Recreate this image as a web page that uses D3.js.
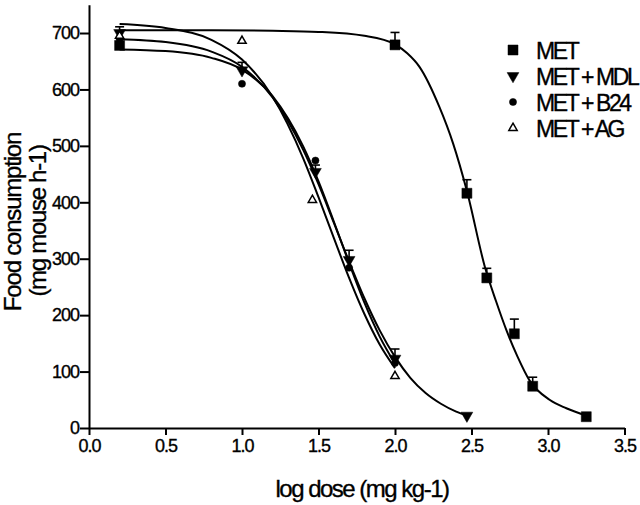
<!DOCTYPE html>
<html><head><meta charset="utf-8">
<script src="https://cdn.jsdelivr.net/npm/d3@7"></script>
<style>
body{margin:0;background:#fff}
text{font-family:"Liberation Sans",Arial,Helvetica,sans-serif;fill:#000;stroke:#000;stroke-width:0.35px}
</style></head>
<body><svg id="c" width="640" height="505"></svg>
<script>
// ---- data ----
const xTicks = [0.0,0.5,1.0,1.5,2.0,2.5,3.0,3.5];
const yTicks = [0,100,200,300,400,500,600,700];
const seriesNames = ["MET","MET + MDL","MET + B24","MET + AG"];

// observed points
const metX = [0.2, 2.0, 2.47, 2.6, 2.78, 2.9, 3.25];
const metY = [678, 679, 416, 266, 167, 74, 20];
const metErr = [6, 22, 24, 17, 26, 16, 0];

const mdlX = [0.2, 1.0, 1.48, 1.7, 2.0, 2.47];
const mdlY = [700, 634, 454, 298, 123, 22];
const mdlErr = [11, 14, 12, 17, 17, 0];

const b24X = [0.2, 1.0, 1.48, 1.7, 2.0];
const b24Y = [690, 610, 474, 284, 115];

const agX = [0.2, 1.0, 1.46, 2.0];
const agY = [695, 686, 404, 92];

// fitted curves
const metCurveX = [0.2,0.8,1.2,1.5,1.8,2.0,2.08,2.16,2.29,2.38,2.47,2.59,2.66,2.73,2.8,2.88,3.01,3.12,3.25];
const metCurveY = [705,705,704,702,695,680,664,640,569,504,420,283,225,172,127,84,50,35,22];
const mdlCurveX = [0.2,0.5,0.8,1.0,1.2,1.4,1.5,1.6,1.7,1.8,1.9,2.0,2.1,2.2,2.3,2.4,2.47];
const mdlCurveY = [689,684,667,640,586,493,432,364,295,230,173,126,89,62,43,29,22];
const b24CurveX = [0.2,0.5,0.8,1.0,1.2,1.4,1.5,1.6,1.7,1.8,1.9,2.0];
const b24CurveY = [671,668,656,635,588,499,437,366,292,222,162,114];
const agCurveX = [0.2,0.5,0.8,1.0,1.2,1.4,1.5,1.6,1.7,1.8,1.9,2.0];
const agCurveY = [716,709,688,653,587,478,409,337,266,202,148,106];

// ---- drawing ----
const svg = d3.select("#c");
const x = d3.scaleLinear().domain([0,3.5]).range([89,624.5]);
const y = d3.scaleLinear().domain([0,750]).range([428,4.8]);

const zip = (xs,ys,es)=>xs.map((v,i)=>({x:v,y:ys[i],e:es?es[i]:0}));
const line = d3.line().x(d=>x(d.x)).y(d=>y(d.y)).curve(d3.curveMonotoneX);

// curves
[[metCurveX,metCurveY],[mdlCurveX,mdlCurveY],[b24CurveX,b24CurveY],[agCurveX,agCurveY]].forEach(([cx,cy])=>{
  svg.append("path").datum(zip(cx,cy)).attr("d",line)
    .attr("fill","none").attr("stroke","#000").attr("stroke-width",2);
});

// error bars (upward only)
function errBars(data){
  const g = svg.append("g").attr("stroke","#000").attr("stroke-width",1.6);
  data.filter(d=>d.e>0).forEach(d=>{
    g.append("line").attr("x1",x(d.x)).attr("x2",x(d.x)).attr("y1",y(d.y)).attr("y2",y(d.y+d.e));
    g.append("line").attr("x1",x(d.x)-4.5).attr("x2",x(d.x)+4.5).attr("y1",y(d.y+d.e)).attr("y2",y(d.y+d.e));
  });
}
errBars(zip(metX,metY,metErr));
errBars(zip(mdlX,mdlY,mdlErr));

const sym = {
  "MET": {type:d3.symbolSquare, size:100, fill:"#000", rot:0},
  "MET + MDL": {type:d3.symbolTriangle, size:60, fill:"#000", rot:180},
  "MET + B24": {type:d3.symbolCircle, size:40, fill:"#000", rot:0},
  "MET + AG": {type:d3.symbolTriangle, size:30, fill:"#fff", rot:0}
};
function drawSym(g, name, cx, cy){
  const s = sym[name];
  g.append("path").attr("d", d3.symbol().type(s.type).size(s.size)())
    .attr("transform",`translate(${cx},${cy}) rotate(${s.rot})`)
    .attr("fill",s.fill).attr("stroke","#000").attr("stroke-width", s.fill==="#fff"?1.5:0.5);
}
const pts = svg.append("g");
[["MET",metX,metY],["MET + MDL",mdlX,mdlY],["MET + B24",b24X,b24Y],["MET + AG",agX,agY]].forEach(([n,xs,ys])=>{
  zip(xs,ys).forEach(d=>drawSym(pts,n,x(d.x),y(d.y)));
});

// axes
const xa = svg.append("g").attr("transform","translate(0,428)")
  .call(d3.axisBottom(x).tickValues(xTicks).tickFormat(d3.format(".1f")).tickSize(7).tickPadding(4).tickSizeOuter(0));
const ya = svg.append("g").attr("transform","translate(89,0)")
  .call(d3.axisLeft(y).tickValues(yTicks).tickSize(9).tickPadding(1).tickSizeOuter(0));
[xa,ya].forEach(a=>{
  a.select(".domain").attr("stroke","#000").attr("stroke-width",2);
  a.selectAll(".tick line").attr("stroke","#000").attr("stroke-width",2);
  a.selectAll(".tick text").style("font-size","18px").style("letter-spacing","-1px")
   .style("font-family",'"Liberation Sans",Arial,sans-serif').attr("fill","#000");
});

// axis titles
svg.append("text").attr("x",362).attr("y",497).attr("text-anchor","middle")
  .style("font-size","24px").style("letter-spacing","-1.5px").text("log dose (mg kg-1)");
svg.append("text").attr("transform","translate(21,222) rotate(-90)").attr("text-anchor","middle")
  .style("font-size","24px").style("letter-spacing","-1.2px").text("Food consumption");
svg.append("text").attr("transform","translate(46,221) rotate(-90)").attr("text-anchor","middle")
  .style("font-size","24px").style("letter-spacing","-1.3px").text("(mg mouse h-1)");

// legend
const lg = svg.append("g");
seriesNames.forEach((n,i)=>{
  const cy = 50 + i*26;
  drawSym(lg,n,513,cy);
  lg.append("text").attr("x",536).attr("y",cy+8.5)
    .style("font-size","23px").style("letter-spacing","-2.4px").text(n);
});
</script></body></html>
